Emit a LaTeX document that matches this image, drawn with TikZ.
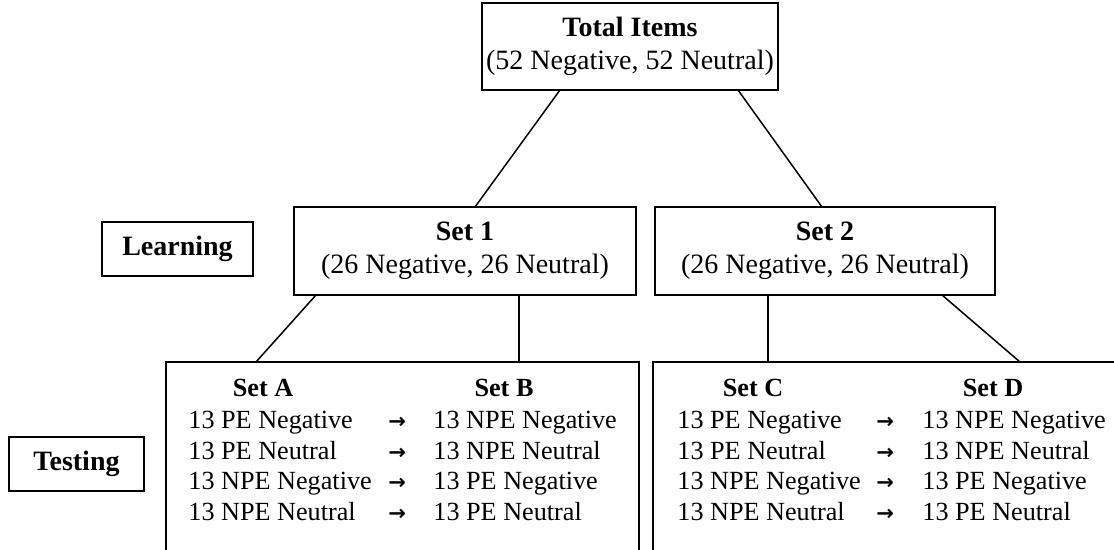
\documentclass[tikz,border=0pt]{standalone}
\usepackage{fontspec}
\setmainfont{Liberation Serif}
\newfontfamily\arrowfont{DejaVu Sans}
\usetikzlibrary{calc}
\begin{document}
\begin{tikzpicture}[x=0.5pt,y=-0.5pt,
  every node/.style={font=\fontsize{14}{16.5}\selectfont, inner sep=0pt},
  box/.style={draw, line width=0.75pt, rectangle, align=center},
  conn/.style={line width=0.75pt},
  cell/.style={anchor=base west, font=\fontsize{13.1}{15}\selectfont},
  head/.style={anchor=base, font=\fontsize{13.1}{15}\selectfont\bfseries},
  arr/.style={anchor=base west, font=\fontsize{10.5}{12}\selectfont\arrowfont\bfseries}]
\useasboundingbox (0,0) rectangle (1114,550);
% top
\node[box, minimum width=296*0.5pt, minimum height=87*0.5pt] (total) at (630,46.5)
  {\textbf{Total Items}\\(52 Negative, 52 Neutral)};
\node[box, minimum width=342*0.5pt, minimum height=88*0.5pt] (set1) at (465,251)
  {\textbf{Set 1}\\(26 Negative, 26 Neutral)};
\node[box, minimum width=340*0.5pt, minimum height=88*0.5pt] (set2) at (825,251)
  {\textbf{Set 2}\\(26 Negative, 26 Neutral)};
\node[box, minimum width=151*0.5pt, minimum height=54*0.5pt, font=\fontsize{14}{16.5}\selectfont\bfseries] (learn) at (177.5,249) {Learning};
\node[box, minimum width=135*0.5pt, minimum height=54*0.5pt, font=\fontsize{14}{16.5}\selectfont\bfseries] (test) at (76.5,464) {Testing};
% bottom open boxes
\coordinate (bLtl) at (166,362);
\coordinate (bLtr) at (639,362);
\coordinate (bRtl) at (653,362);
\coordinate (bRtr) at (1120,362);
\draw[conn] (166,552) -- (bLtl) -- (bLtr) -- (639,552);
\draw[conn] (653,552) -- (bRtl) -- (bRtr);
% connectors
\coordinate (t1) at (560,90);
\coordinate (t2) at (738,90);
\coordinate (s1a) at (475,207);
\coordinate (s2a) at (822,207);
\draw[conn] (t1) -- (s1a);
\draw[conn] (t2) -- (s2a);
\coordinate (s1l) at (316,295);
\coordinate (s1r) at (519,295);
\coordinate (bl1) at (256,362);
\coordinate (bl2) at (519,362);
\draw[conn] (s1l) -- (bl1);
\draw[conn] (s1r) -- (bl2);
\coordinate (s2l) at (768,295);
\coordinate (s2r) at (942,295);
\coordinate (br1) at (768,362);
\coordinate (br2) at (1020,362);
\draw[conn] (s2l) -- (br1);
\draw[conn] (s2r) -- (br2);
% headers
\node[head] (hA) at (263,397) {Set A};
\node[head] (hB) at (504,397) {Set B};
\node[head] (hC) at (753,397) {Set C};
\node[head] (hD) at (993,397) {Set D};
% rows
\foreach \y/\l/\r [count=\i] in {429/13 PE Negative/13 NPE Negative, 459.5/13 PE Neutral/13 NPE Neutral, 490/13 NPE Negative/13 PE Negative, 520.5/13 NPE Neutral/13 PE Neutral}{
  \node[cell] (la\i) at (188,\y) {\l};
  \node[arr] (lx\i) at (388,\y) {→};
  \node[cell] (lb\i) at (433,\y) {\r};
  \node[cell] (rc\i) at (677,\y) {\l};
  \node[arr] (rx\i) at (876,\y) {→};
  \node[cell] (rd\i) at (922,\y) {\r};
}
\end{tikzpicture}
\end{document}
